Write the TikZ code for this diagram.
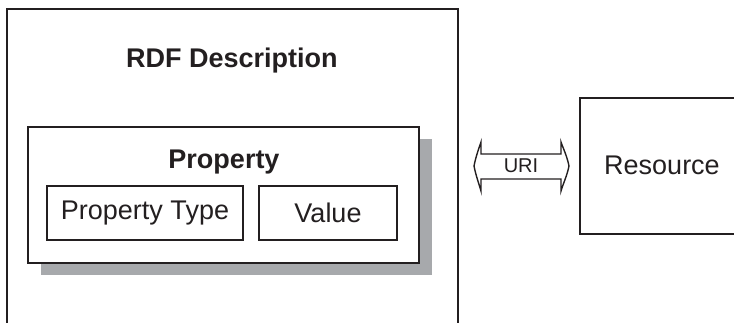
\documentclass[tikz,border=0pt]{standalone}
\usepackage{fontspec}
\setmainfont{Liberation Sans}
\definecolor{ink}{HTML}{231F20}
\definecolor{shade}{HTML}{A7A9AC}
\begin{document}
\begin{tikzpicture}[x=1pt,y=-1pt,
  box/.style={draw=ink, line width=1.6pt, inner sep=0pt, outer sep=0pt, fill=white},
  lbl/.style={font=\fontsize{27}{30}\selectfont, text=ink, inner sep=0pt, anchor=base},
  boldlbl/.style={lbl, font=\fontsize{27}{30}\selectfont\bfseries},
  boxlbl/.style={box, font=\fontsize{27}{30}\selectfont, text=ink}]
\useasboundingbox (0,0) rectangle (734,323);
\clip (0,0) rectangle (734,323);
% outer RDF description box (open at bottom)
\node[box, fill=none, anchor=north west, minimum width=451pt, minimum height=340pt] (rdf) at (7,9) {};
\node[boldlbl] (rdft) at (232,68) {RDF Description};
% property box with shadow
\node[fill=shade, inner sep=0pt, outer sep=0pt, anchor=north west, minimum width=391pt, minimum height=136pt] (shadow) at (41,139) {};
\node[box, anchor=north west, minimum width=391pt, minimum height=136pt] (prop) at (28,127) {};
\node[boldlbl] (propt) at (224,169) {Property};
\node[boxlbl, minimum width=196pt, minimum height=54pt] (ptype) at (145,213) {Property Type};
\node[boxlbl, minimum width=138pt, minimum height=54pt] (val) at (328,213) {Value};
% resource box (open at right)
\node[box, fill=none, anchor=north west, minimum width=180pt, minimum height=136pt] (res) at (580,98) {};
\node[lbl] (rest) at (662,175) {Resource};
% URI double arrow
\coordinate (uL) at (474,166);
\coordinate (uR) at (569,166);
\draw[ink, line width=1.4pt, line join=miter]
  (uL) .. controls (476,156) and (479,148) .. (481,142) -- (481,154) -- (561,154) -- (561,142)
  .. controls (563,148) and (567,156) .. (uR)
  .. controls (567,176) and (563,184) .. (561,191) -- (561,179) -- (481,179) -- (481,191)
  .. controls (479,184) and (476,176) .. (uL) -- cycle;
\node[lbl, font=\fontsize{20}{24}\selectfont] (urit) at (521,173) {URI};
\end{tikzpicture}
\end{document}
